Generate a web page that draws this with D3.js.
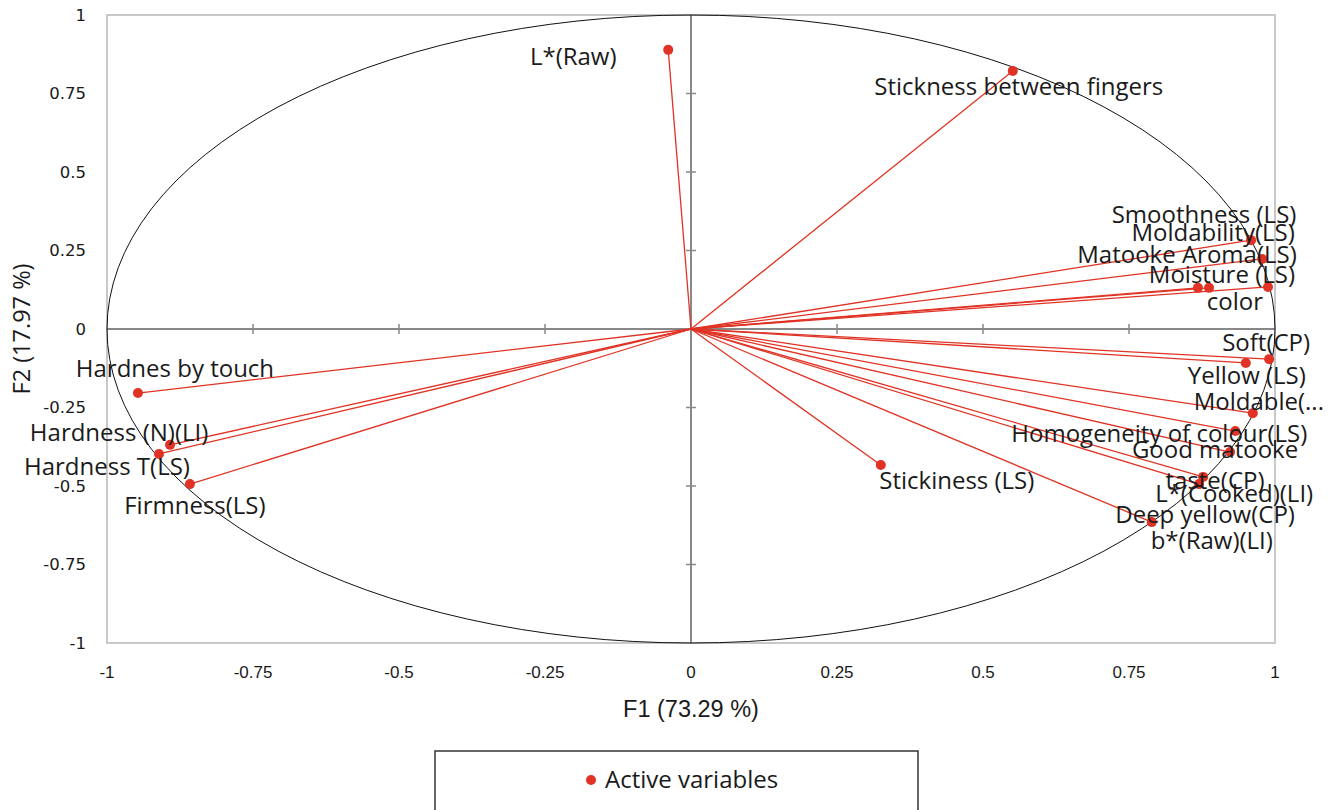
<!DOCTYPE html>
<html>
<head>
<meta charset="utf-8">
<script src="https://cdn.jsdelivr.net/npm/d3@7"></script>
<style>
  body { margin: 0; background: #fff; }
  svg { display: block; }
  .lbl { font-family: "Open Sans", "Noto Sans", sans-serif; font-size: 24px; fill: #1a1a1a; }
  .ytick { font-family: "DejaVu Sans", "Noto Sans", sans-serif; font-size: 16.5px; fill: #1a1a1a; }
  .xtick { font-family: "Liberation Sans Narrow", "Liberation Sans", sans-serif; font-size: 17px; fill: #1a1a1a; }
  .xtitle { font-family: "Liberation Sans Narrow", "Liberation Sans", sans-serif; font-size: 23.5px; fill: #1a1a1a; }
  .ytitle { font-family: "Open Sans", "Noto Sans", sans-serif; font-size: 23.5px; fill: #1a1a1a; }
</style>
</head>
<body>
<div id="chart"></div>
<script>
// variable names and their loadings on F1 / F2
var names = ['L*(Raw)', 'Stickness between fingers', 'Smoothness (LS)', 'Moldability(LS)',
  'Matooke Aroma(LS)', 'Moisture (LS)', 'color', 'Soft(CP)', 'Yellow (LS)', 'Moldable(...',
  'Homogeneity of colour(LS)', 'Good matooke|taste(CP)', 'L*(Cooked)(LI)', 'Deep yellow(CP)',
  'b*(Raw)(LI)', 'Stickiness (LS)', 'Hardnes by touch', 'Hardness (N)(LI)', 'Hardness T(LS)',
  'Firmness(LS)'];
var f1 = [-0.039, 0.551, 0.959, 0.978, 0.887, 0.868, 0.988, 0.990, 0.950, 0.962,
  0.932, 0.923, 0.877, 0.870, 0.789, 0.325, -0.947, -0.892, -0.911, -0.858];
var f2 = [0.889, 0.822, 0.283, 0.223, 0.131, 0.131, 0.134, -0.096, -0.108, -0.268,
  -0.325, -0.392, -0.471, -0.494, -0.615, -0.433, -0.204, -0.369, -0.398, -0.494];
var ticks = [-1, -0.75, -0.5, -0.25, 0, 0.25, 0.5, 0.75, 1];

// label placement (pixels from the point), roughly like XLSTAT put them
var labelDx = [-95, 6, -47, -49, -22, 24, -33, -3, 1, 6, -76, -15, 31, 6, 60, 76, 37, -51, -52, 5];
var labelDy = [7, 16, -26, -26, -33, -13, 15, -17, 13, -12, 3, -2, 17, 30, 18, 16, -24, -12, 13, 21];

var W = 1344, H = 810;
var x = d3.scaleLinear().domain([-1, 1]).range([107, 1275]);
var y = d3.scaleLinear().domain([-1, 1]).range([643, 15]);

var svg = d3.select('#chart').append('svg')
  .attr('width', W)
  .attr('height', H);

// frame
svg.append('rect')
  .attr('x', x(-1)).attr('y', y(1))
  .attr('width', x(1) - x(-1)).attr('height', y(-1) - y(1))
  .attr('fill', 'none').attr('stroke', '#c8c8c8').attr('stroke-width', 2);

// zero axes with small ticks
svg.append('line')
  .attr('x1', x(-1)).attr('x2', x(1)).attr('y1', y(0)).attr('y2', y(0))
  .attr('stroke', '#888').attr('stroke-width', 2);
svg.append('line')
  .attr('x1', x(0)).attr('x2', x(0)).attr('y1', y(1)).attr('y2', y(-1))
  .attr('stroke', '#888').attr('stroke-width', 2);

svg.selectAll('.vt')
  .data(ticks.filter(function(d) { return d != 0 && Math.abs(d) != 1; }))
  .enter().append('line')
  .attr('x1', x(0) - 5).attr('x2', x(0) + 5)
  .attr('y1', function(d) { return y(d); }).attr('y2', function(d) { return y(d); })
  .attr('stroke', '#888').attr('stroke-width', 1.5);
svg.selectAll('.ht')
  .data(ticks.filter(function(d) { return d != 0 && Math.abs(d) != 1; }))
  .enter().append('line')
  .attr('y1', y(0) - 5).attr('y2', y(0) + 5)
  .attr('x1', function(d) { return x(d); }).attr('x2', function(d) { return x(d); })
  .attr('stroke', '#888').attr('stroke-width', 1.5);

// unit circle
svg.append('ellipse')
  .attr('cx', x(0)).attr('cy', y(0))
  .attr('rx', x(1) - x(0)).attr('ry', y(0) - y(1))
  .attr('fill', 'none').attr('stroke', '#111').attr('stroke-width', 1);

// tick labels
svg.selectAll('.ytick')
  .data(ticks)
  .enter().append('text')
  .attr('class', 'ytick')
  .attr('x', 86)
  .attr('y', function(d) { return y(d); })
  .attr('dy', '0.35em')
  .style('text-anchor', 'end')
  .text(function(d) { return d; });

svg.selectAll('.xtick')
  .data(ticks)
  .enter().append('text')
  .attr('class', 'xtick')
  .attr('x', function(d) { return x(d); })
  .attr('y', 672)
  .attr('dy', '0.35em')
  .style('text-anchor', 'middle')
  .text(function(d) { return d; });

// axis titles
svg.append('text').attr('class', 'xtitle')
  .attr('x', x(0)).attr('y', 709).attr('dy', '0.35em')
  .style('text-anchor', 'middle')
  .text('F1 (73.29 %)');
svg.append('text').attr('class', 'ytitle')
  .attr('transform', 'translate(22,' + y(0) + ') rotate(-90)')
  .attr('dy', '0.35em')
  .style('text-anchor', 'middle')
  .text('F2 (17.97 %)');

// vectors
var idx = d3.range(names.length);
svg.selectAll('.vec')
  .data(idx)
  .enter().append('line')
  .attr('x1', x(0)).attr('y1', y(0))
  .attr('x2', function(i) { return x(f1[i]); })
  .attr('y2', function(i) { return y(f2[i]); })
  .attr('stroke', '#e03325').attr('stroke-width', 1.3);

svg.selectAll('.pt')
  .data(idx)
  .enter().append('circle')
  .attr('cx', function(i) { return x(f1[i]); })
  .attr('cy', function(i) { return y(f2[i]); })
  .attr('r', 5)
  .attr('fill', '#e03325');

var lbl = svg.selectAll('.lbl')
  .data(idx)
  .enter().append('text')
  .attr('class', 'lbl')
  .style('text-anchor', 'middle');
lbl.each(function(i) {
  var parts = names[i].split('|');
  var t = d3.select(this);
  parts.forEach(function(p, k) {
    t.append('tspan')
      .attr('x', x(f1[i]) + labelDx[i])
      .attr('y', y(f2[i]) + labelDy[i] + k * 31)
      .attr('dy', '0.35em')
      .text(p);
  });
});

// legend
svg.append('rect')
  .attr('x', 435).attr('y', 751).attr('width', 483).attr('height', 80)
  .attr('fill', 'none').attr('stroke', '#333').attr('stroke-width', 1.5);
svg.append('circle').attr('cx', 591).attr('cy', 780).attr('r', 5).attr('fill', '#e03325');
svg.append('text').attr('class', 'lbl')
  .attr('x', 605).attr('y', 780).attr('dy', '0.35em')
  .text('Active variables');
</script>
</body>
</html>
